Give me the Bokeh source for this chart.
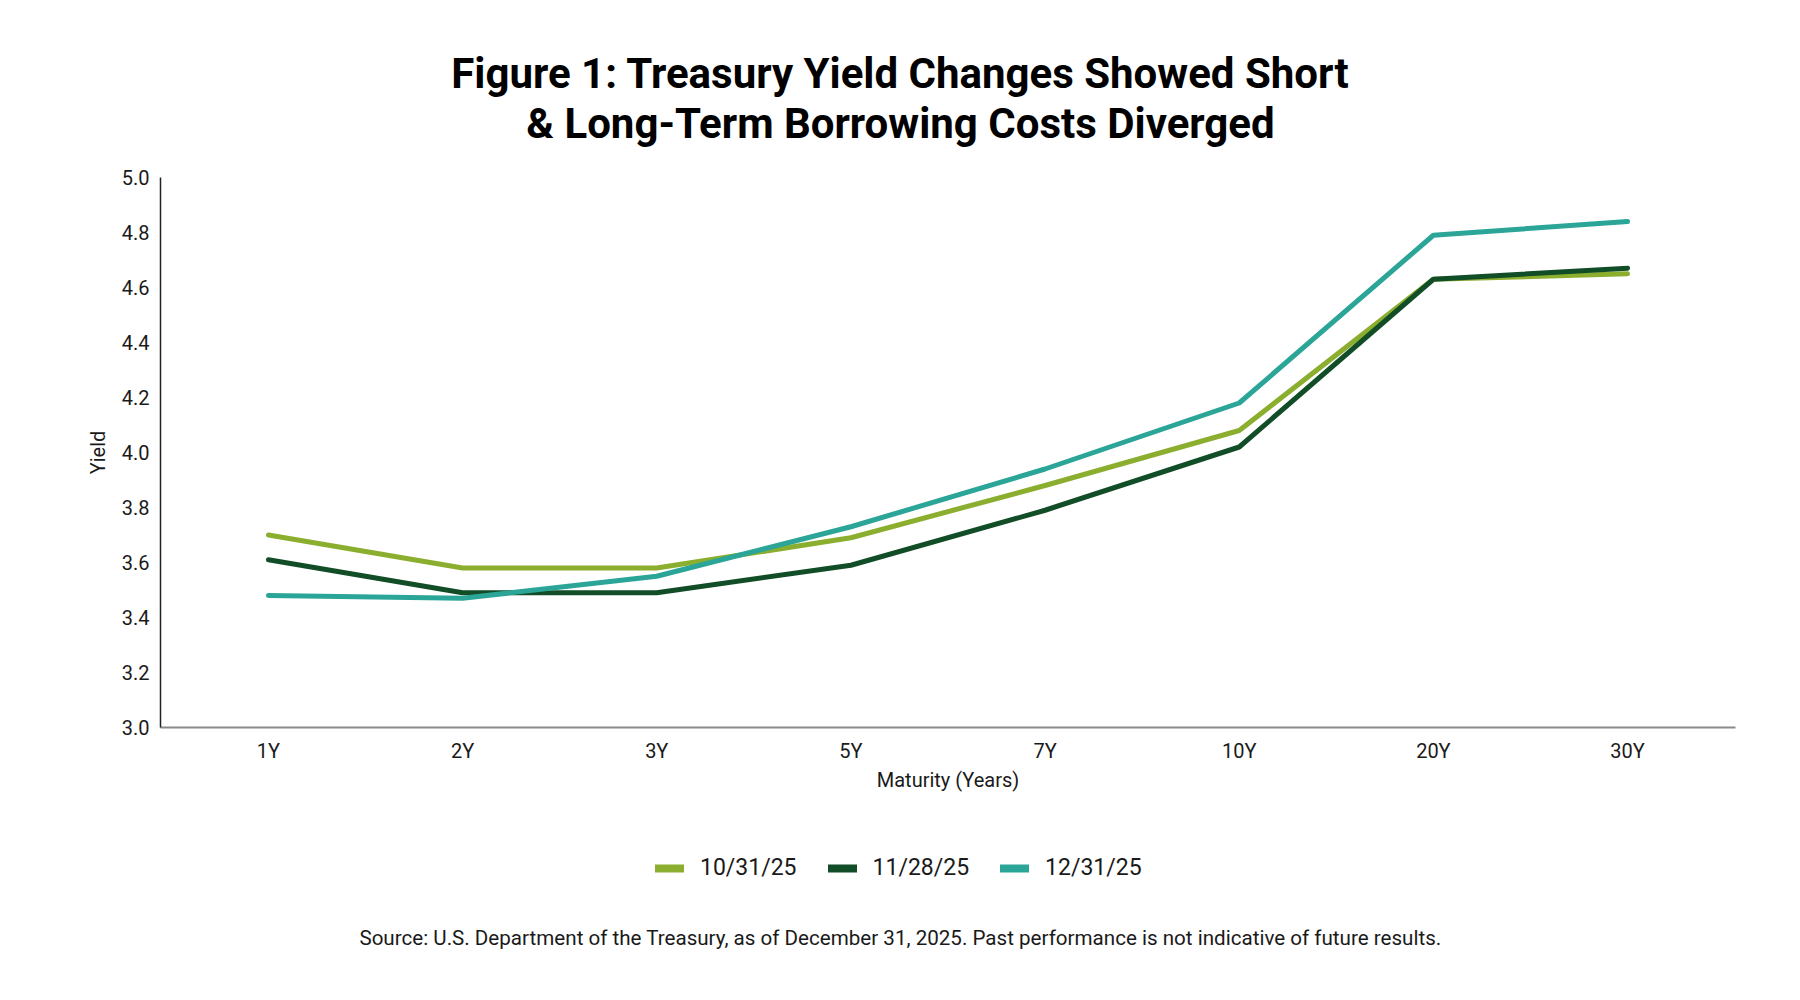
from bokeh.plotting import figure
from bokeh.layouts import column
from bokeh.models import (ColumnDataSource, Range1d, FixedTicker, Legend, LegendItem,
                          NumeralTickFormatter, Label)
from bokeh.embed import file_html
from bokeh.resources import INLINE

maturities = ["1Y", "2Y", "3Y", "5Y", "7Y", "10Y", "20Y", "30Y"]
y_oct = [3.70, 3.58, 3.58, 3.69, 3.88, 4.08, 4.63, 4.65]
y_nov = [3.61, 3.49, 3.49, 3.59, 3.79, 4.02, 4.63, 4.67]
y_dec = [3.48, 3.47, 3.55, 3.73, 3.94, 4.18, 4.79, 4.84]
series_names = ["10/31/25", "11/28/25", "12/31/25"]
y_ticks = [3.0, 3.2, 3.4, 3.6, 3.8, 4.0, 4.2, 4.4, 4.6, 4.8, 5.0]
title_lines = ["Figure 1: Treasury Yield Changes Showed Short",
               "& Long-Term Borrowing Costs Diverged"]
source_text = ("Source: U.S. Department of the Treasury, as of December 31, 2025. "
               "Past performance is not indicative of future results.")

colors = ["#8BAE2F", "#114D26", "#2BA597"]
FONT = "Roboto"
W = 1784
TOP_H, MAIN_H, BOT_H = 150, 670, 164
FRAME_LEFT = 160   # column aligns frames, so screen x in blank figs is relative to this
FRAME_RIGHT = 49
CENTER_X = 900 - FRAME_LEFT

xs = list(range(len(maturities)))
sources = [ColumnDataSource(dict(x=xs, y=v)) for v in (y_oct, y_nov, y_dec)]


def blank_fig(h):
    f = figure(width=W, height=h, output_backend="svg", toolbar_location=None,
               x_axis_type=None, y_axis_type=None,
               x_range=Range1d(100, 101), y_range=Range1d(100, 101),
               min_border_left=FRAME_LEFT, min_border_right=FRAME_RIGHT,
               min_border_top=0, min_border_bottom=0)
    f.outline_line_color = None
    f.grid.grid_line_color = None
    return f


# ---- title ----
top = blank_fig(TOP_H)
for txt, yy in zip(title_lines, [TOP_H - 73, TOP_H - 123]):
    top.add_layout(Label(x=CENTER_X, y=yy, x_units="screen", y_units="screen", text=txt,
                         text_font=FONT, text_font_size="42px", text_font_style="bold",
                         text_align="center", text_baseline="middle", text_color="#000000"))

# ---- main chart ----
p = figure(width=W, height=MAIN_H, output_backend="svg", toolbar_location=None,
           x_range=Range1d(-0.556, len(maturities) - 1 + 0.556),
           y_range=Range1d(3.0, 5.0),
           min_border_left=FRAME_LEFT, min_border_right=FRAME_RIGHT,
           min_border_top=27, min_border_bottom=93)
p.outline_line_color = None
p.grid.grid_line_color = None

for src, c in zip(sources, colors):
    p.line("x", "y", source=src, line_color=c, line_width=5, line_cap="round")

p.xaxis.ticker = FixedTicker(ticks=xs)
p.xaxis.major_label_overrides = {i: m for i, m in enumerate(maturities)}
p.yaxis.ticker = FixedTicker(ticks=y_ticks)
p.yaxis.formatter = NumeralTickFormatter(format="0.0")
for ax in (p.xaxis, p.yaxis):
    ax.major_tick_line_color = None
    ax.minor_tick_line_color = None
    ax.major_label_text_font = FONT
    ax.major_label_text_font_size = "20px"
    ax.major_label_text_color = "#1a1a1a"
    ax.axis_label_text_font = FONT
    ax.axis_label_text_font_size = "20px"
    ax.axis_label_text_font_style = "normal"
    ax.axis_label_text_color = "#1a1a1a"
p.xaxis.axis_label = "Maturity (Years)"
p.yaxis.axis_label = "Yield"
p.xaxis.axis_line_color = "#8a8a8a"
p.xaxis.axis_line_width = 2
p.yaxis.axis_line_color = "#222222"
p.yaxis.axis_line_width = 1.5
p.xaxis.major_label_standoff = 5
p.xaxis.axis_label_standoff = 2
p.yaxis.major_label_standoff = 5
p.yaxis.axis_label_standoff = 9

# ---- legend + source ----
bot = blank_fig(BOT_H)
leg_renderers = [bot.line("x", "y", source=src, line_color=c, line_width=8, line_cap="round")
                 for src, c in zip(sources, colors)]
legend = Legend(items=[LegendItem(label=n, renderers=[r]) for n, r in zip(series_names, leg_renderers)],
                orientation="horizontal", location=(655 - FRAME_LEFT, BOT_H - 61),
                glyph_width=29, glyph_height=26, label_height=26, label_standoff=16, spacing=31,
                padding=0, margin=0, border_line_color=None, background_fill_alpha=0,
                label_text_font=FONT, label_text_font_size="23px", label_text_color="#1a1a1a")
bot.add_layout(legend, "center")
bot.add_layout(Label(x=CENTER_X, y=BOT_H - 117, x_units="screen", y_units="screen", text=source_text,
                     text_font=FONT, text_font_size="20.6px", text_align="center",
                     text_baseline="middle", text_color="#1a1a1a"))

layout = column(top, p, bot, spacing=0)
open("out.html", "w").write(file_html(layout, INLINE))
